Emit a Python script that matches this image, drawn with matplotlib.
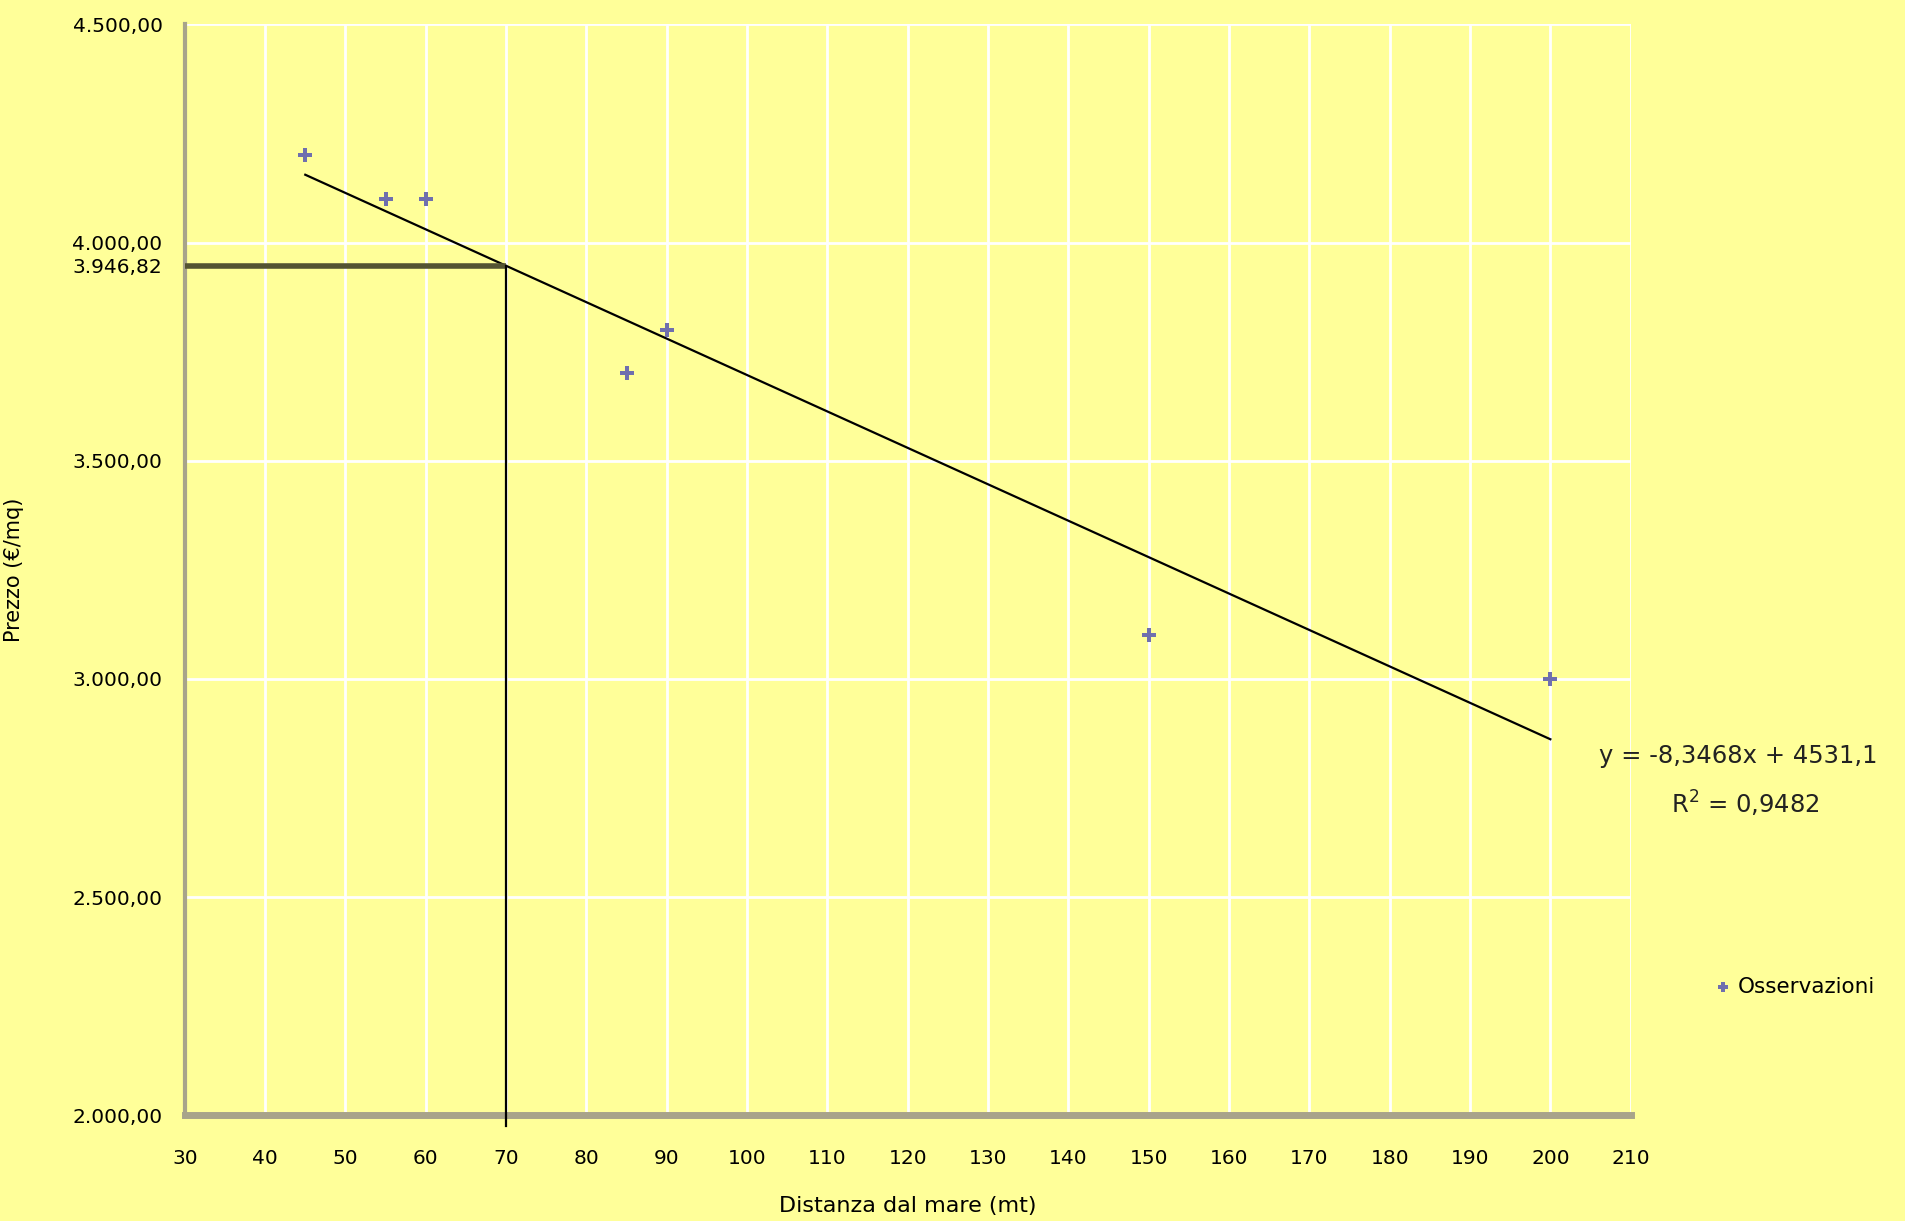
import numpy as np
import matplotlib.pyplot as plt

distanza = np.array([45, 55, 60, 85, 90, 150, 200])
prezzo = np.array([4200, 4100, 4100, 3700, 3800, 3100, 3000])
x_stima = 70
slope = -8.3468
intercept = 4531.1
r2 = 0.9482
y_stima = 3946.82
x_ticks = np.arange(30, 211, 10)
y_ticks = [2000, 2500, 3000, 3500, 4000, 4500]


def fmt_it(v):
    s = "{:,.2f}".format(v)
    return s.replace(",", "X").replace(".", ",").replace("X", ".")


bg = "#ffff99"
plt.rcParams['font.family'] = ['DejaVu Sans']

fig = plt.figure(figsize=(19.05, 12.21), dpi=100)
fig.patch.set_facecolor(bg)
ax = fig.add_axes([0.097, 0.0866, 0.759, 0.8934])
ax.set_facecolor(bg)

ax.set_xlim(30, 210)
ax.set_ylim(2000, 4500)
ax.set_xticks(x_ticks)
ax.set_xticklabels([str(t) for t in x_ticks], fontsize=14.5)
yt = y_ticks + [y_stima]
ax.set_yticks(yt)
ax.set_yticklabels([fmt_it(t) for t in yt], fontsize=14.5)
ax.tick_params(length=0)
ax.tick_params(axis='x', pad=24)
ax.tick_params(axis='y', pad=16)
ax.grid(True, color="white", linewidth=2)
ax.set_axisbelow(True)
for g, t in zip(ax.get_ygridlines(), yt):
    if t == y_stima:
        g.set_visible(False)

for s in ["top", "right"]:
    ax.spines[s].set_visible(False)
ax.spines["left"].set_color("#a8a48a")
ax.spines["left"].set_linewidth(3)
ax.spines["bottom"].set_color("#a8a48a")
ax.spines["bottom"].set_linewidth(5)

# trend line
xl = np.array([distanza.min(), distanza.max()])
ax.plot(xl, slope * xl + intercept, color="black", linewidth=1.6, zorder=3)

# reading lines
ax.plot([30, x_stima], [y_stima, y_stima], color="#545432", linewidth=4, zorder=3,
        solid_capstyle="butt")
ax.plot([x_stima, x_stima], [1975, y_stima], color="black", linewidth=1.6, zorder=3,
        clip_on=False)

ax.scatter(distanza, prezzo, marker="P", s=110, color="#6f6fae", zorder=4,
           label="Osservazioni", linewidths=0)

ax.text(0.978, 0.329, "y = -8,3468x + 4531,1", transform=ax.transAxes,
        fontsize=17.5, color="#222222", ha="left", va="center")
ax.text(1.028, 0.285, "R$^2$ = 0,9482", transform=ax.transAxes,
        fontsize=17.5, color="#222222", ha="left", va="center")

leg = ax.legend(loc="center left", bbox_to_anchor=(1.058, 0.118), frameon=False,
                fontsize=15.5, handletextpad=0.3, handlelength=0.8,
                borderaxespad=0, borderpad=0, markerscale=0.75)

ax.set_xlabel("Distanza dal mare (mt)", fontsize=16)
ax.xaxis.set_label_coords(0.5, -0.074)
ax.set_ylabel("Prezzo (€/mq)", fontsize=15)
ax.yaxis.set_label_coords(-0.111, 0.5)

fig.savefig("out.png", dpi=100, facecolor=bg)
